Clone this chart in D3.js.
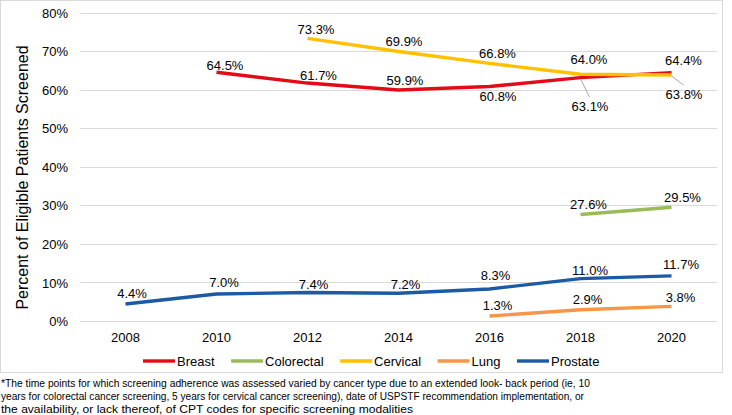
<!DOCTYPE html>
<html>
<head>
<meta charset="utf-8">
<script src="https://cdn.jsdelivr.net/npm/d3@7"></script>
<style>
  html, body { margin: 0; padding: 0; background: #ffffff; }
  svg { display: block; }
  text { font-family: "Liberation Sans", Arial, Helvetica, sans-serif; fill: #000; }
</style>
</head>
<body>
<svg id="chart" width="732" height="415"></svg>
<script>
// ---------- DATA ----------
const years = ["2008", "2010", "2012", "2014", "2016", "2018", "2020"];
const yTicks = [0, 0.1, 0.2, 0.3, 0.4, 0.5, 0.6, 0.7, 0.8];
const seriesNames = ["Breast", "Colorectal", "Cervical", "Lung", "Prostate"];

const breastYears = ["2010", "2012", "2014", "2016", "2018", "2020"];
const breastValues = [0.645, 0.617, 0.599, 0.608, 0.631, 0.644];

const colorectalYears = ["2018", "2020"];
const colorectalValues = [0.276, 0.295];

const cervicalYears = ["2012", "2014", "2016", "2018", "2020"];
const cervicalValues = [0.733, 0.699, 0.668, 0.640, 0.638];

const lungYears = ["2016", "2018", "2020"];
const lungValues = [0.013, 0.029, 0.038];

const prostateYears = ["2008", "2010", "2012", "2014", "2016", "2018", "2020"];
const prostateValues = [0.044, 0.070, 0.074, 0.072, 0.083, 0.110, 0.117];

const yAxisTitle = "Percent of Eligible Patients Screened";
const footnoteLines = [
  "*The time points for which screening adherence was assessed varied by cancer type due to an extended look\u2010 back period (ie, 10",
  "years for colorectal cancer screening, 5 years for cervical cancer screening), date of USPSTF recommendation implementation, or",
  "the availability, or lack thereof, of CPT codes for specific screening modalities"
];

// ---------- STYLE / LAYOUT (not data) ----------
const colors = {
  Breast: "#e30b17",
  Colorectal: "#9bbb59",
  Cervical: "#ffc000",
  Lung: "#f79646",
  Prostate: "#1c5aa6"
};
// data label placement: [dx, dy of label centre relative to point]
const labelPlacement = {
  Breast:     [[8.5,-7],[11,-8],[6.5,-10],[8.5,10],[9.5,28.5],[12,-12]],
  Colorectal: [[8,-10.7],[11,-10]],
  Cervical:   [[8.5,-9],[5.5,-10],[8,-10],[8.5,-14.5],[12.5,19]],
  Lung:       [[8,-10.7],[7,-10.3],[9,-9]],
  Prostate:   [[6.5,-10.7],[7.5,-11.3],[6,-8],[7,-9],[6,-13.7],[9.5,-8],[9.5,-12]]
};
const leaderSeries = { "Breast|2018": true, "Cervical|2020": true };

const series = [
  { name: "Breast", years: breastYears, values: breastValues },
  { name: "Colorectal", years: colorectalYears, values: colorectalValues },
  { name: "Cervical", years: cervicalYears, values: cervicalValues },
  { name: "Lung", years: lungYears, values: lungValues },
  { name: "Prostate", years: prostateYears, values: prostateValues }
];

const svg = d3.select("#chart");

// outer chart border
svg.append("rect")
  .attr("x", 0.5).attr("y", 0.5)
  .attr("width", 722).attr("height", 372)
  .attr("fill", "#fff").attr("stroke", "#d9d9d9").attr("stroke-width", 1);

const plotLeft = 80, plotRight = 717;
const x = d3.scaleBand().domain(years).range([plotLeft, plotRight]).paddingInner(0).paddingOuter(0);
const xc = d => x(d) + x.bandwidth() / 2;
const y = d3.scaleLinear().domain([0, 0.8]).range([321, 12.5]);

// gridlines
svg.append("g")
  .selectAll("line")
  .data(yTicks)
  .join("line")
  .attr("x1", plotLeft).attr("x2", plotRight)
  .attr("y1", d => Math.round(y(d)) + 0.5).attr("y2", d => Math.round(y(d)) + 0.5)
  .attr("stroke", "#d9d9d9").attr("stroke-width", 1);

// y axis labels
const yAxis = d3.axisLeft(y).tickValues(yTicks).tickFormat(d3.format(".0%")).tickSize(0).tickPadding(0);
const gy = svg.append("g").attr("transform", "translate(68,0)").call(yAxis);
gy.select(".domain").remove();
gy.selectAll("text")
  .attr("font-size", 13)
  .attr("font-family", "Liberation Sans, Arial, sans-serif")
  .attr("fill", "#000")
  .attr("dy", "0.35em");

// x axis labels
const xAxis = d3.axisBottom(x).tickSize(0).tickPadding(0);
const gx = svg.append("g").attr("transform", "translate(0,342)").call(xAxis);
gx.select(".domain").remove();
gx.selectAll("text")
  .attr("font-size", 13)
  .attr("font-family", "Liberation Sans, Arial, sans-serif")
  .attr("fill", "#000")
  .attr("y", 0).attr("dy", 0);

// y axis title
svg.append("text")
  .attr("transform", "translate(28,177.5) rotate(-90)")
  .attr("text-anchor", "middle")
  .attr("font-size", 16)
  .text(yAxisTitle);

// lines
const line = d3.line().x(d => xc(d.year)).y(d => y(d.value));
series.forEach(s => {
  const pts = s.years.map((yr, i) => ({ year: yr, value: s.values[i] }));
  s.pts = pts;
  svg.append("path")
    .datum(pts)
    .attr("d", line)
    .attr("fill", "none")
    .attr("stroke", colors[s.name])
    .attr("stroke-width", 3.4)
    .attr("stroke-linejoin", "round")
    .attr("stroke-linecap", "butt");
});

// data labels
const fmt = d3.format(".1%");
series.forEach(s => {
  s.pts.forEach((p, i) => {
    const [dx, dy] = labelPlacement[s.name][i];
    const px = xc(p.year), py = y(p.value);
    const cx = px + dx, cy = py + dy;
    if (leaderSeries[s.name + "|" + p.year]) {
      svg.append("line")
        .attr("x1", px).attr("y1", py + 1)
        .attr("x2", px + (dx > 10 ? 12 : 9)).attr("y2", cy - 9)
        .attr("stroke", "#a6a6a6").attr("stroke-width", 1);
    }
    svg.append("text")
      .attr("x", cx).attr("y", cy + 4.7)
      .attr("text-anchor", "middle")
      .attr("font-size", 13)
      .text(fmt(p.value));
  });
});

// legend
let lx = 143;
const ly = 361;
seriesNames.forEach(name => {
  svg.append("line")
    .attr("x1", lx).attr("x2", lx + 32)
    .attr("y1", ly).attr("y2", ly)
    .attr("stroke", colors[name]).attr("stroke-width", 3.4);
  const t = svg.append("text")
    .attr("x", lx + 34).attr("y", ly + 5.3)
    .attr("font-size", 13)
    .text(name);
  const w = t.node().getComputedTextLength();
  lx = lx + 34 + w + 16.5;
});

// footnote
const footWidths = [589, 583, 412];
const footBase = [386.5, 400, 412.5];
footnoteLines.forEach((l, i) => {
  svg.append("text")
    .attr("x", 1).attr("y", footBase[i])
    .attr("font-size", 11.8)
    .attr("textLength", footWidths[i])
    .attr("lengthAdjust", "spacingAndGlyphs")
    .text(l);
});
</script>
</body>
</html>
